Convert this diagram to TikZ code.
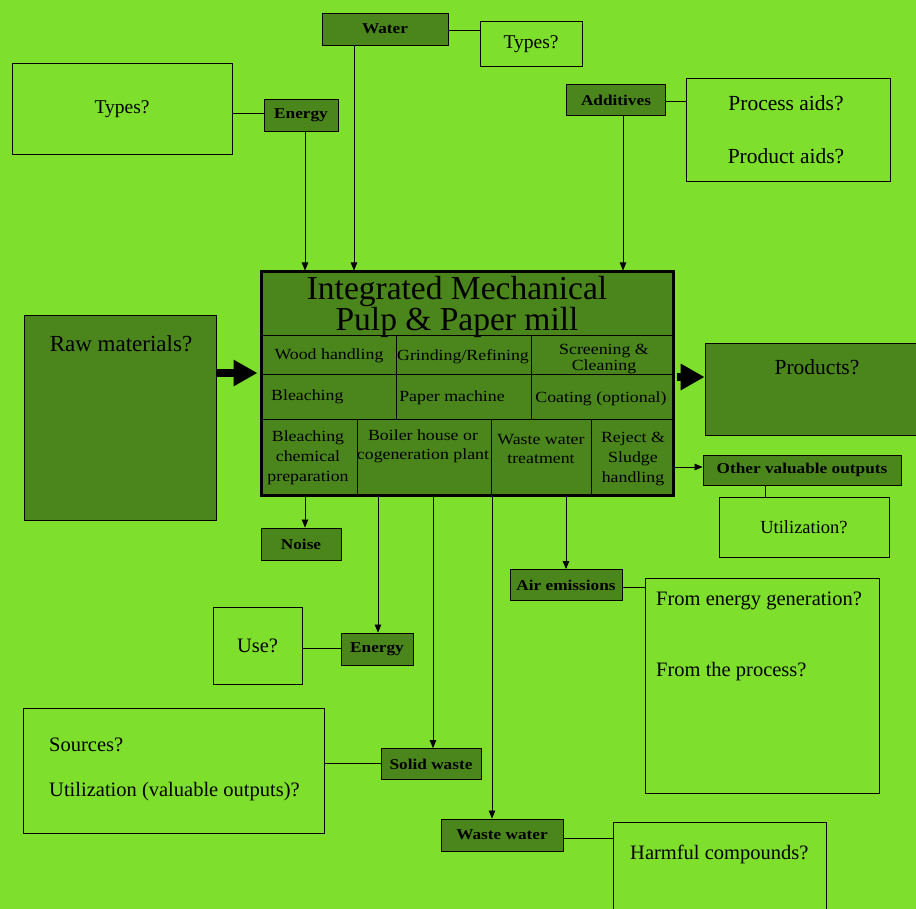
\documentclass[tikz,border=0pt]{standalone}
\usepackage{fontspec}
\setmainfont{Liberation Serif}
\newfontfamily\dkfont[FakeStretch=1.15]{Liberation Serif}
\usetikzlibrary{arrows.meta,calc}
\definecolor{bg}{RGB}{126,224,44}
\definecolor{dk}{RGB}{74,134,28}
\begin{document}
\begin{tikzpicture}[x=1pt,y=-1pt,
  dbox/.style={draw=black,fill=dk,line width=0.8pt,inner sep=0pt,font=\dkfont\bfseries\fontsize{15}{16}\selectfont},
  lbox/.style={draw=black,line width=0.8pt,inner sep=0pt},
  ltext/.style={font=\fontsize{20.5}{22}\selectfont,inner sep=0pt},
  ctext/.style={font=\dkfont\fontsize{15.5}{14}\selectfont,inner sep=0pt,align=center},
  arr/.style={-{Triangle[length=8pt,width=6.5pt]},line width=0.7pt},
  con/.style={line width=0.8pt},
  big/.style={-{Triangle[length=24pt,width=25pt]},line width=8pt}]
\useasboundingbox (0,0) rectangle (916,909);
\fill[bg] (0,0) rectangle (916,909);
% top inputs
\node[dbox,minimum width=126pt,minimum height=32pt] (water) at (385,29) {Water};
\node[lbox,minimum width=102pt,minimum height=45pt,ltext,font=\fontsize{19.5}{22}\selectfont] (wtypes) at (531,44) {Types?};
\node[lbox,minimum width=220pt,minimum height=91pt,ltext,font=\fontsize{19.5}{22}\selectfont] (etypes) at (122,109) {Types?};
\node[dbox,minimum width=74pt,minimum height=32pt] (energy) at (301,115) {Energy};
\node[dbox,minimum width=99pt,minimum height=31pt] (addit) at (616,100) {Additives};
\node[lbox,minimum width=204pt,minimum height=103pt] (aids) at (788,130) {};
\node[ltext,font=\fontsize{21.5}{22}\selectfont] (paids) at (786,103) {Process aids?};
\node[ltext,font=\fontsize{21.5}{22}\selectfont] (pdaids) at (786,156) {Product aids?};
\draw[con] (water.east |- 0,30) -- (wtypes.west |- 0,30);
\draw[con] (etypes.east |- 0,113) -- (energy.west |- 0,113);
\draw[con] (addit.east |- 0,101) -- (aids.west |- 0,101);
% mill
\node[draw=black,fill=dk,line width=3pt,minimum width=412pt,minimum height=223pt,inner sep=0pt] (mill) at (467,383.5) {};
\node[font=\fontsize{33.5}{26}\selectfont,align=center,inner sep=0pt] (title) at (457,307) {Integrated Mechanical\\Pulp \& Paper mill};
\draw[line width=1pt] (261,336) -- (673,336) (261,375) -- (673,375) (261,419) -- (673,419);
\draw[line width=1pt] (396,336) -- (396,419) (531,336) -- (531,419);
\draw[line width=1pt] (357,419) -- (357,495) (491,419) -- (491,495) (591,419) -- (591,495);
\node[ctext] (c11) at (329,356) {Wood handling};
\node[ctext] (c12) at (463,357) {Grinding/Refining};
\node[ctext,font=\dkfont\fontsize{15.5}{14}\selectfont] (c13) at (604,359) {Screening \&\\Cleaning};
\node[ctext,anchor=west] (c21) at (271,397) {Bleaching};
\node[ctext] (c22) at (452,398) {Paper machine};
\node[ctext] (c23) at (601,399) {Coating (optional)};
\node[ctext,font=\dkfont\fontsize{15.5}{20}\selectfont] (c31) at (308,458) {Bleaching\\chemical\\preparation};
\node[ctext,font=\dkfont\fontsize{15.5}{19}\selectfont] (c32) at (423,446) {Boiler house or\\cogeneration plant};
\node[ctext,font=\dkfont\fontsize{15.5}{19}\selectfont] (c33) at (541,449) {Waste water\\treatment};
\node[ctext,font=\dkfont\fontsize{15.5}{20}\selectfont] (c34) at (633,459) {Reject \&\\Sludge\\handling};
\coordinate (ea) at (305,0);
\coordinate (wa) at (354,0);
\coordinate (aa) at (623,0);
\draw[arr] (ea |- energy.south) -- (ea |- mill.north);
\draw[arr] (wa |- water.south) -- (wa |- mill.north);
\draw[arr] (aa |- addit.south) -- (aa |- mill.north);
% raw and products
\node[dbox,minimum width=192pt,minimum height=205pt] (raw) at (120,417.5) {};
\node[font=\fontsize{23}{24}\selectfont,inner sep=0pt] (rawt) at (121,344) {Raw materials?};
\draw[big] (raw.east |- 0,373) -- ([xshift=-2pt]mill.west |- 0,373);
\node[dbox,minimum width=216pt,minimum height=92pt] (prod) at (813,389) {};
\node[font=\fontsize{21.5}{24}\selectfont,inner sep=0pt] (prodt) at (817,367) {Products?};
\draw[big] ([xshift=2pt]mill.east |- 0,377) -- (prod.west |- 0,377);
\node[dbox,minimum width=198pt,minimum height=30pt] (other) at (802,470) {Other valuable outputs};
\draw[arr] (mill.east |- 0,467) -- (other.west |- 0,467);
\node[lbox,minimum width=170pt,minimum height=60pt,ltext,font=\fontsize{18.5}{22}\selectfont] (util) at (804,527) {Utilization?};
\coordinate (oa) at (765,0);
\draw[con] (oa |- other.south) -- (oa |- util.north);
% outputs
\node[dbox,minimum width=80pt,minimum height=32pt] (noise) at (301,544) {Noise};
\node[dbox,minimum width=72pt,minimum height=32pt] (energy2) at (377,649) {Energy};
\node[lbox,minimum width=89pt,minimum height=77pt,ltext] (use) at (257.5,645.5) {Use?};
\node[dbox,minimum width=100pt,minimum height=31pt] (solid) at (431,764) {Solid waste};
\node[lbox,minimum width=301pt,minimum height=125pt] (src) at (173.5,770.5) {};
\node[ltext,anchor=west] (srct) at (49,745) {Sources?};
\node[ltext,anchor=west] (srcu) at (49,792) {Utilization (valuable outputs)?};
\node[dbox,minimum width=112pt,minimum height=31pt] (air) at (566,585) {Air emissions};
\node[lbox,minimum width=234pt,minimum height=215pt] (airb) at (762,685.5) {};
\node[ltext,anchor=west] (air1) at (656,601) {From energy generation?};
\node[ltext,anchor=west] (air2) at (656,672) {From the process?};
\node[dbox,minimum width=122pt,minimum height=32pt] (ww) at (502,835) {Waste water};
\node[lbox,minimum width=213pt,minimum height=100pt] (harm) at (719.5,872) {};
\node[ltext,anchor=west] (harmt) at (630,854) {Harmful compounds?};
\coordinate (na) at (305,0);
\coordinate (ga) at (378,0);
\coordinate (sa) at (433,0);
\coordinate (xa) at (492,0);
\coordinate (ra) at (566,0);
\draw[arr] (na |- mill.south) -- (na |- noise.north);
\draw[arr] (ga |- mill.south) -- (ga |- energy2.north);
\draw[arr] (sa |- mill.south) -- (sa |- solid.north);
\draw[arr] (xa |- mill.south) -- (xa |- ww.north);
\draw[arr] (ra |- mill.south) -- (ra |- air.north);
\draw[con] (use.east |- 0,648) -- (energy2.west |- 0,648);
\draw[con] (src.east |- 0,763) -- (solid.west |- 0,763);
\draw[con] (air.east |- 0,587) -- (airb.west |- 0,587);
\draw[con] (ww.east |- 0,838) -- (harm.west |- 0,838);
\end{tikzpicture}
\end{document}
